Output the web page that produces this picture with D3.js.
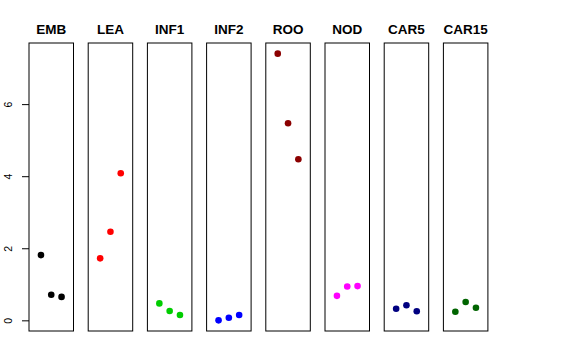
<!DOCTYPE html>
<html><head><meta charset="utf-8">
<script src="https://cdn.jsdelivr.net/npm/d3@7"></script>
<style>body{margin:0;background:#fff}svg{display:block}</style>
</head><body>
<svg id="chart" width="576" height="360"></svg>
<script>
const panels = ["EMB","LEA","INF1","INF2","ROO","NOD","CAR5","CAR15"];
const colors = ["#000000","#FF0000","#00CD00","#0000FF","#8B0000","#FF00FF","#000080","#006400"];
const vEMB = [1.81, 0.71, 0.65];
const vLEA = [1.72, 2.46, 4.08];
const vINF1 = [0.47, 0.26, 0.15];
const vINF2 = [0.00, 0.07, 0.15];
const vROO = [7.40, 5.47, 4.47];
const vNOD = [0.68, 0.94, 0.95];
const vCAR5 = [0.32, 0.42, 0.25];
const vCAR15 = [0.24, 0.51, 0.35];
const yTicks = [0, 2, 4, 6];
const series = [vEMB, vLEA, vINF1, vINF2, vROO, vNOD, vCAR5, vCAR15];

const svg = d3.select("#chart");
const plotTop = 43, plotBottom = 331;
const firstLeft = 29, step = 59.2, pw = 44.5;

const all = series.flat();
const ymin = d3.min(all), ymax = d3.max(all), pad = (ymax - ymin) * 0.04;
const y = d3.scaleLinear().domain([ymin - pad, ymax + pad]).range([plotBottom, plotTop]);
const xpad = 4 * 0.04;
const x = d3.scaleLinear().domain([0 - xpad, 4 + xpad]).range([0, pw]);

panels.forEach((name, i) => {
  const left = firstLeft + step * i;
  const g = svg.append("g").attr("transform", `translate(${left},0)`);
  g.append("rect").attr("x", 0).attr("y", plotTop).attr("width", pw).attr("height", plotBottom - plotTop)
    .attr("fill", "none").attr("stroke", "#000").attr("stroke-width", 1);
  g.append("text").attr("x", pw / 2).attr("y", 34).attr("text-anchor", "middle")
    .attr("font-family", "Liberation Sans, Arial, sans-serif").attr("font-weight", "bold")
    .attr("font-size", 13.5).text(name);
  g.selectAll("circle").data(series[i]).join("circle")
    .attr("cx", (d, j) => x(j + 1)).attr("cy", d => y(d)).attr("r", 3.3)
    .attr("fill", colors[i]);
});

const axis = d3.axisLeft(y).tickValues(yTicks).tickSize(7).tickFormat(d3.format("d"));
const ag = svg.append("g").attr("transform", `translate(${firstLeft},0)`).call(axis);
ag.select(".domain").remove();
ag.selectAll(".tick line").attr("stroke", "#000");
ag.selectAll(".tick text")
  .attr("font-family", "Liberation Sans, Arial, sans-serif").attr("font-size", 10.5)
  .attr("fill", "#000").attr("text-anchor", "middle")
  .attr("x", 0).attr("dy", null).attr("y", 0)
  .attr("transform", "translate(-17,0) rotate(-90)");
</script>
</body></html>
